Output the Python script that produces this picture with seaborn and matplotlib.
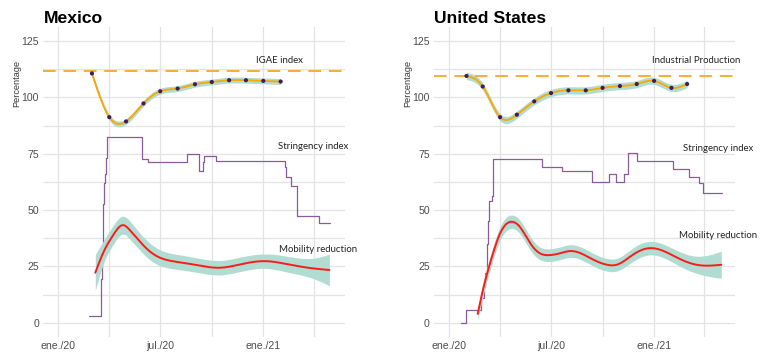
import numpy as np
import pandas as pd
import matplotlib
matplotlib.use("Agg")
import matplotlib.pyplot as plt
import seaborn as sns

# ---------------- data ----------------
# Mexico: monthly IGAE index, stringency index (step changes), mobility reduction (smoothed)
mx_igae_start, mx_igae_n = "2020-03-01", 12
mx_igae = [110.6, 91.2, 89.3, 97.3, 102.7, 103.9, 105.8, 106.8, 107.6, 107.6, 107.3, 107.0]
mx_igae_ref = 111.6

mx_str_dates = ["2020-02-25", "2020-03-17", "2020-03-18", "2020-03-19", "2020-03-20",
                "2020-03-21", "2020-03-22", "2020-03-24", "2020-03-27", "2020-03-28",
                "2020-05-30", "2020-06-09", "2020-08-18", "2020-09-09", "2020-09-15",
                "2020-09-17", "2020-10-08", "2021-02-08", "2021-02-10", "2021-02-20",
                "2021-03-02", "2021-04-11", "2021-04-30"]
mx_str = [2.78, 8.33, 19.44, 30.56, 41.67, 52.78, 62.04, 66.2, 73.15, 82.41,
          72.69, 71.3, 74.84, 67.13, 71.3, 73.84, 71.76, 68.98, 64.81, 60.65,
          47.22, 44.44, 44.44]

mx_mob_dates = ["2020-03-07", "2020-03-22", "2020-04-08", "2020-04-25", "2020-05-08",
                "2020-05-26", "2020-06-13", "2020-07-01", "2020-08-05", "2020-09-10",
                "2020-10-16", "2020-11-21", "2021-01-07", "2021-02-12", "2021-03-31",
                "2021-04-29"]
mx_mob = [22.2, 31.5, 38.9, 43.3, 41.0, 35.9, 31.5, 28.8, 26.8, 25.3,
          24.4, 25.9, 27.3, 26.0, 24.1, 23.4]
mx_mob_ci = [8.0, 5.0, 4.2, 4.0, 4.0, 3.8, 3.7, 3.5, 3.3, 3.2,
             3.2, 3.2, 3.2, 3.5, 4.5, 7.0]

# United States: monthly industrial production, stringency index, mobility reduction
us_ip_start, us_ip_n = "2020-02-01", 14
us_ip = [109.5, 104.8, 91.2, 92.3, 98.2, 101.9, 103.1, 103.1, 104.2, 105.0,
         105.9, 107.3, 104.2, 105.9]
us_ip_ref = 109.4

us_str_dates = ["2020-01-22", "2020-01-31", "2020-02-27", "2020-03-03", "2020-03-05",
                "2020-03-09", "2020-03-11", "2020-03-13", "2020-03-17", "2020-03-19",
                "2020-03-20", "2020-06-14", "2020-07-20", "2020-09-13", "2020-10-13",
                "2020-10-25", "2020-11-09", "2020-11-16", "2020-12-02", "2021-02-03",
                "2021-03-05", "2021-03-23", "2021-03-30", "2021-05-02"]
us_str = [0.0, 5.56, 11.11, 16.67, 22.22, 35.0, 45.0, 54.0, 56.0, 67.0,
          72.69, 69.21, 67.13, 62.5, 66.2, 62.5, 66.2, 75.46, 71.76, 68.28,
          64.81, 61.81, 57.41, 57.41]

us_mob_dates = ["2020-02-21", "2020-03-02", "2020-03-14", "2020-04-01", "2020-04-21",
                "2020-05-07", "2020-05-25", "2020-06-11", "2020-06-29", "2020-07-17",
                "2020-08-04", "2020-08-22", "2020-09-15", "2020-10-09", "2020-10-26",
                "2020-11-25", "2020-12-25", "2021-01-18", "2021-02-15", "2021-03-18",
                "2021-05-01"]
us_mob = [3.9, 15.2, 26.3, 39.6, 44.8, 42.3, 35.2, 30.8, 30.0, 30.8,
          31.8, 30.9, 27.9, 25.7, 25.7, 30.3, 33.1, 31.8, 28.4, 25.7, 25.7]
us_mob_ci = [2.5, 3.0, 3.0, 3.0, 3.0, 3.0, 3.0, 2.8, 2.8, 2.8,
             2.8, 2.8, 2.8, 2.8, 2.8, 3.0, 3.0, 3.0, 3.2, 3.8, 6.0]

x_ticks = ["2020-01-01", "2020-07-01", "2021-01-01"]
x_tick_labels = ["ene./20", "jul./20", "ene./21"]
x_minor = ["2020-04-01", "2020-10-01", "2021-04-01"]
y_ticks = [0, 25, 50, 75, 100, 125]

# ---------------- helpers ----------------
ORIGIN = pd.Timestamp("2020-01-01")


def to_days(dates):
    return np.asarray((pd.to_datetime(dates) - ORIGIN).days, dtype=float)


def natural_spline(x, y, xs):
    """Evaluate a natural cubic spline through (x, y) at xs."""
    x = np.asarray(x, float)
    y = np.asarray(y, float)
    n = len(x)
    h = np.diff(x)
    A = np.zeros((n, n))
    r = np.zeros(n)
    A[0, 0] = A[-1, -1] = 1.0
    for i in range(1, n - 1):
        A[i, i - 1] = h[i - 1]
        A[i, i] = 2 * (h[i - 1] + h[i])
        A[i, i + 1] = h[i]
        r[i] = 3 * ((y[i + 1] - y[i]) / h[i] - (y[i] - y[i - 1]) / h[i - 1])
    c = np.linalg.solve(A, r)
    b = (y[1:] - y[:-1]) / h - h * (2 * c[:-1] + c[1:]) / 3
    d = (c[1:] - c[:-1]) / (3 * h)
    idx = np.clip(np.searchsorted(x, xs) - 1, 0, n - 2)
    dx = xs - x[idx]
    return y[idx] + b[idx] * dx + c[idx] * dx ** 2 + d[idx] * dx ** 3


def smooth_frame(dates, values, ci):
    d = to_days(dates)
    grid = np.arange(d[0], d[-1] + 1)
    fit = natural_spline(d, values, grid)
    half = natural_spline(d, ci, grid)
    return pd.DataFrame({"date": ORIGIN + pd.to_timedelta(grid, unit="D"),
                         "fit": fit, "lo": fit - half, "hi": fit + half})


BAND = "#B0DCD1"
PURPLE = "#8A5A9C"
ORANGE = "#FFA500"
DOTS = "#3B1F5C"
GRID = "#E3E3E3"
TICK = "#4D4D4D"

sns.set_theme(style="white")
plt.rcParams["font.family"] = ["Liberation Sans", "DejaVu Sans"]

fig = plt.figure(figsize=(7.61, 3.54), dpi=100)
W, H = 761, 354
ylo, yhi = -6.25, 131.25
ax_bottom = (H - 336.8) / H
ax_height = 309.9 / H
xlo, xhi = ORIGIN + pd.Timedelta(days=-27), ORIGIN + pd.Timedelta(days=511)

panels = [
    dict(left=43.2, title="Mexico", idx_start=mx_igae_start, idx_n=mx_igae_n, idx=mx_igae,
         ref=mx_igae_ref, idx_ci=1.3, str_dates=mx_str_dates, strv=mx_str,
         mob_dates=mx_mob_dates, mob=mx_mob, mob_ci=mx_mob_ci,
         labels=[("IGAE index", 394, 116.4), ("Stringency index", 455, 78.3),
                 ("Mobility reduction", 463, 32.6)]),
    dict(left=434.0, title="United States", idx_start=us_ip_start, idx_n=us_ip_n, idx=us_ip,
         ref=us_ip_ref, idx_ci=1.6, str_dates=us_str_dates, strv=us_str,
         mob_dates=us_mob_dates, mob=us_mob, mob_ci=us_mob_ci,
         labels=[("Industrial Production", 441, 116.3), ("Stringency index", 480, 77.4),
                 ("Mobility reduction", 480, 38.5)]),
]

for p in panels:
    ax = fig.add_axes([p["left"] / W, ax_bottom, 301.3 / W, ax_height])
    ax.set_xlim(xlo, xhi)
    ax.set_ylim(ylo, yhi)

    # grid
    ax.set_xticks(pd.to_datetime(x_ticks))
    ax.set_xticklabels(x_tick_labels)
    ax.set_xticks(pd.to_datetime(x_minor), minor=True)
    ax.set_yticks(y_ticks)
    ax.set_yticks([12.5, 37.5, 62.5, 87.5, 112.5], minor=True)
    ax.grid(True, which="both", color=GRID, linewidth=0.9)
    ax.set_axisbelow(True)
    for s in ax.spines.values():
        s.set_visible(False)
    ax.tick_params(which="both", length=0, labelsize=7.6, labelcolor=TICK, pad=3)

    # stringency index as a step line
    sdf = pd.DataFrame({"date": pd.to_datetime(p["str_dates"]), "value": p["strv"]})
    sns.lineplot(data=sdf, x="date", y="value", ax=ax, color=PURPLE, linewidth=0.9,
                 drawstyle="steps-post", estimator=None, zorder=3)

    # mobility reduction smooth with band
    mdf = smooth_frame(p["mob_dates"], p["mob"], p["mob_ci"])
    ax.fill_between(mdf["date"], mdf["lo"], mdf["hi"], color=BAND, linewidth=0, zorder=4)
    sns.lineplot(data=mdf, x="date", y="fit", ax=ax, color="#FF1A1A", linewidth=1.4,
                 estimator=None, zorder=5)

    # activity index: points, smooth and pre-crisis reference
    months = pd.date_range(p["idx_start"], periods=p["idx_n"], freq="MS")
    idf = smooth_frame(months, p["idx"], [p["idx_ci"]] * p["idx_n"])
    ax.fill_between(idf["date"], idf["lo"], idf["hi"], color=BAND, linewidth=0, zorder=4)
    sns.lineplot(data=idf, x="date", y="fit", ax=ax, color=ORANGE, linewidth=1.3,
                 estimator=None, zorder=5)
    pdf = pd.DataFrame({"date": months, "value": p["idx"]})
    sns.scatterplot(data=pdf, x="date", y="value", ax=ax, color=DOTS, s=9,
                    edgecolor="none", zorder=6)
    ax.axhline(p["ref"], color="#FFAA33", linewidth=1.4, dashes=(6.5, 4), zorder=5)

    for text, day, yv in p["labels"]:
        ax.text(ORIGIN + pd.Timedelta(days=day), yv, text, ha="center", va="center",
                fontsize=6.9, color="#222222", family=["Lato", "DejaVu Sans"],
                clip_on=False, zorder=7)

    ax.set_xlabel("")
    ax.set_ylabel("")
    ax.text(-0.088, 0.895, "Percentage", transform=ax.transAxes, rotation=90,
            ha="center", va="top", fontsize=6.6, color="#333333")
    fig.text((p["left"] + 0.5) / W, 1 - 18.5 / H, p["title"], ha="left", va="center",
             fontsize=12.6, fontweight="bold", color="black")

fig.savefig("out.png", dpi=100)
